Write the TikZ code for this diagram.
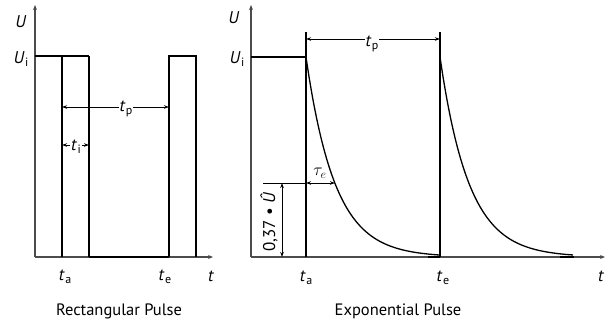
\documentclass[tikz,border=0pt]{standalone}
\usepackage{fontspec}
\setmainfont{PT Sans}
\usetikzlibrary{arrows.meta}
\newcommand\tsb[2]{\textit{#1}\kern0.5pt\raisebox{-0.35ex}{\fontsize{12}{12}\selectfont #2}}
\tikzset{
  ax/.style={draw=black!70, line width=1.2pt, -{Stealth[length=5pt,width=4pt]}},
  sig/.style={draw=black, line width=1.4pt},
  flat/.style={draw=black, line width=2.6pt},
  dim/.style={draw=black, line width=0.9pt, {Stealth[length=5pt,width=3.5pt]}-{Stealth[length=5pt,width=3.5pt]}},
  lbl/.style={inner sep=1pt, font=\fontsize{17}{19}\selectfont},
  captxt/.style={inner sep=1pt, font=\fontsize{16.5}{19}\selectfont},
  wl/.style={lbl, fill=white},
}
\begin{document}
\begin{tikzpicture}[x=1pt,y=-1pt]
\useasboundingbox (0,0) rectangle (608,325);
% ---------- left: rectangular ----------
\coordinate (lo) at (35,257);
\coordinate (ly) at (35,5);
\coordinate (lx) at (213,257);
\draw[ax] (lo) -- (ly);
\draw[ax] (lo) -- (lx);
\draw[sig] (35,56) -- (89,56);
\draw[sig] (62,257) -- (62,56);
\draw[sig] (89,56) -- (89,257);
\draw[flat] (89,257) -- (169,257);
\draw[sig] (169,257) -- (169,56) -- (196,56) -- (196,257);
\coordinate (lp1) at (62,107);
\coordinate (lp2) at (169,107);
\draw[dim] (lp1) -- (lp2);
\node[wl] (ltp) at (126,109) {\tsb{t}{p}};
\coordinate (li1) at (62,145);
\coordinate (li2) at (89,145);
\draw[dim] (li1) -- (li2);
\node[wl] (lti) at (76,147) {\tsb{t}{i}};
\node[lbl] (lU) at (21,22) {\textit{U}};
\node[lbl] (lUi) at (21,59) {\tsb{U}{i}};
\node[lbl] (lta) at (65,277) {\tsb{t}{a}};
\node[lbl] (lte) at (165,277) {\tsb{t}{e}};
\node[lbl] (lt) at (211,276) {\textit{t}};
\node[captxt] (lcap) at (119,311) {Rectangular Pulse};
% ---------- right: exponential ----------
\coordinate (ro) at (251,257);
\coordinate (ry) at (251,5);
\coordinate (rx) at (605,257);
\draw[ax] (ro) -- (ry);
\draw[ax] (ro) -- (rx);
\draw[sig] (251,57) -- (306,57);
\draw[sig] (306,257) -- (306,32);
\draw[sig] (440,257) -- (440,32);
\draw[sig, line width=1.3pt] plot[domain=0:134, samples=90] ({306+\x},{257-200*exp(-\x/29)});
\draw[sig, line width=1.3pt] plot[domain=0:133, samples=90] ({440+\x},{257-200*exp(-\x/29)});
\draw[flat] (428,257) -- (440,257);
\draw[flat] (560,257) -- (574,257);
\coordinate (rp1) at (306,39);
\coordinate (rp2) at (440,39);
\draw[dim] (rp1) -- (rp2);
\node[wl] (rtp) at (372,44) {\tsb{t}{p}};
\coordinate (h0) at (263,183);
\coordinate (h1) at (306,183);
\coordinate (h2) at (335,183);
\draw[black, line width=0.9pt] (h0) -- (h1);
\draw[dim] (h1) -- (h2);
\node[lbl] (tau) at (320,173) {$\tau_e$};
\coordinate (v1) at (282,183);
\coordinate (v2) at (282,257);
\draw[dim] (v1) -- (v2);
\node[lbl, rotate=90] (r37) at (269,222) {0,37 • \textit{Û}};
\node[lbl] (rU) at (234,18) {\textit{U}};
\node[lbl] (rUi) at (237,59) {\tsb{U}{i}};
\node[lbl] (rta) at (306,278) {\tsb{t}{a}};
\node[lbl] (rte) at (443,278) {\tsb{t}{e}};
\node[lbl] (rt) at (601,276) {\textit{t}};
\node[captxt] (rcap) at (398,311) {Exponential Pulse};
\end{tikzpicture}
\end{document}
